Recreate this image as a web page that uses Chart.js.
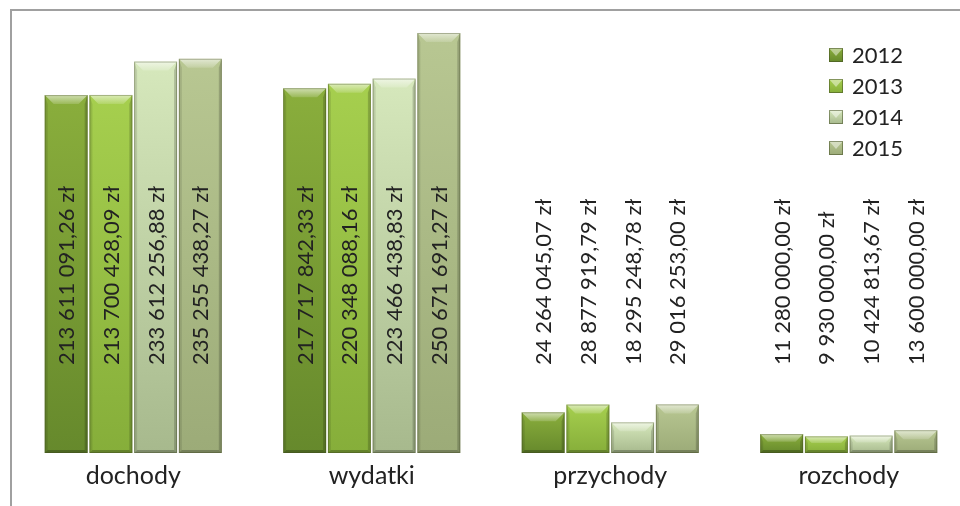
<!DOCTYPE html>
<html>
<head>
<meta charset="utf-8">
<script src="https://cdn.jsdelivr.net/npm/chart.js@4.4.0/dist/chart.umd.min.js"></script>
<style>
  html, body { margin: 0; padding: 0; background: #ffffff; overflow: hidden; }
  #wrap { position: absolute; left: 0; top: 0; width: 980px; height: 506px; }
</style>
</head>
<body>
<div id="wrap"><canvas id="c"></canvas></div>
<script>
// ---- data ----
const categories = ['dochody', 'wydatki', 'przychody', 'rozchody'];
const seriesNames = ['2012', '2013', '2014', '2015'];
const values2012 = [213611091.26, 217717842.33, 24264045.07, 11280000.00];
const values2013 = [213700428.09, 220348088.16, 28877919.79, 9930000.00];
const values2014 = [233612256.88, 223466438.83, 18295248.78, 10424813.67];
const values2015 = [235255438.27, 250671691.27, 29016253.00, 13600000.00];
const seriesValues = [values2012, values2013, values2014, values2015];

// ---- styles ----
const topColors = ['#8aae3c', '#a6cf4e', '#d6e8bc', '#b8c792'];
const botColors = ['#66892c', '#86ae3a', '#a7b98d', '#9cab78'];
const FONT = 'Lato, "Open Sans", sans-serif';

function fmt(v) {
  const s = v.toFixed(2).split('.');
  const intp = s[0].replace(/\B(?=(\d{3})+(?!\d))/g, ' ');
  return intp + ',' + s[1] + ' zł';
}

function barFill(i) {
  return function (ctx) {
    const chart = ctx.chart;
    const ys = chart.scales && chart.scales.y;
    if (!ys || ctx.raw === undefined || !isFinite(ys.getPixelForValue(0))) return topColors[i];
    const top = ys.getPixelForValue(ctx.raw);
    const base = ys.getPixelForValue(0);
    if (!(base > top)) return topColors[i];
    const g = chart.ctx.createLinearGradient(0, top, 0, base);
    g.addColorStop(0, topColors[i]);
    g.addColorStop(1, botColors[i]);
    return g;
  };
}

const bevelPlugin = {
  id: 'bevel',
  afterDatasetsDraw(chart) {
    const ctx = chart.ctx;
    chart.data.datasets.forEach((ds, di) => {
      const meta = chart.getDatasetMeta(di);
      meta.data.forEach((bar) => {
        const p = bar.getProps(['x', 'y', 'base', 'width'], true);
        const l = p.x - p.width / 2, r = p.x + p.width / 2, t = p.y, b = p.base;
        const h = b - t;
        const tb = Math.min(9, h / 2.5), sb = Math.min(3, h / 4);
        ctx.save();
        let g = ctx.createLinearGradient(0, t, 0, t + tb);
        g.addColorStop(0, 'rgba(255,255,255,0.6)');
        g.addColorStop(1, 'rgba(255,255,255,0.15)');
        ctx.fillStyle = g;
        ctx.beginPath();
        ctx.moveTo(l, t); ctx.lineTo(r, t); ctx.lineTo(r - tb, t + tb); ctx.lineTo(l + tb, t + tb); ctx.closePath();
        ctx.fill();
        ctx.fillStyle = 'rgba(0,0,0,0.10)';
        ctx.beginPath();
        ctx.moveTo(l, t); ctx.lineTo(l + sb, t + tb); ctx.lineTo(l + sb, b - sb); ctx.lineTo(l, b); ctx.closePath();
        ctx.fill();
        ctx.fillStyle = 'rgba(0,0,0,0.18)';
        ctx.beginPath();
        ctx.moveTo(r, t); ctx.lineTo(r - sb, t + tb); ctx.lineTo(r - sb, b - sb); ctx.lineTo(r, b); ctx.closePath();
        ctx.fill();
        ctx.fillStyle = 'rgba(0,0,0,0.25)';
        ctx.beginPath();
        ctx.moveTo(l, b); ctx.lineTo(r, b); ctx.lineTo(r - sb, b - sb); ctx.lineTo(l + sb, b - sb); ctx.closePath();
        ctx.fill();
        ctx.strokeStyle = 'rgba(60,70,30,0.35)';
        ctx.lineWidth = 1;
        ctx.strokeRect(l + 0.5, t + 0.5, p.width - 1, h - 1);
        ctx.restore();
      });
    });
    // value labels
    ctx.save();
    ctx.fillStyle = '#222222';
    ctx.font = '22px ' + FONT;
    ctx.textAlign = 'left';
    ctx.textBaseline = 'middle';
    chart.data.datasets.forEach((ds, di) => {
      const meta = chart.getDatasetMeta(di);
      meta.data.forEach((bar, idx) => {
        const p = bar.getProps(['x', 'base'], true);
        ctx.save();
        ctx.translate(p.x + 1, p.base - 88);
        ctx.rotate(-Math.PI / 2);
        ctx.fillText(fmt(ds.data[idx]), 0, 0);
        ctx.restore();
      });
    });
    ctx.restore();
  },
  afterDraw(chart) {
    const ctx = chart.ctx;
    ctx.save();
    ctx.font = '22px ' + FONT;
    ctx.textBaseline = 'middle';
    ctx.textAlign = 'left';
    chart.data.datasets.forEach((ds, i) => {
      const cy = 55 + i * 31;
      const sx = 829, s = 14;
      const g = ctx.createLinearGradient(0, cy - s / 2, 0, cy + s / 2);
      g.addColorStop(0, topColors[i]);
      g.addColorStop(1, botColors[i]);
      ctx.fillStyle = g;
      ctx.fillRect(sx, cy - s / 2, s, s);
      ctx.fillStyle = 'rgba(255,255,255,0.45)';
      ctx.beginPath();
      ctx.moveTo(sx, cy - s / 2); ctx.lineTo(sx + s, cy - s / 2); ctx.lineTo(sx + s / 2, cy + 1); ctx.closePath();
      ctx.fill();
      ctx.strokeStyle = 'rgba(60,70,30,0.5)';
      ctx.lineWidth = 1;
      ctx.strokeRect(sx + 0.5, cy - s / 2 + 0.5, s - 1, s - 1);
      ctx.fillStyle = '#222222';
      ctx.fillText(ds.label, 852, cy + 1);
    });
    ctx.restore();
  },
  beforeDraw(chart) {
    const ctx = chart.ctx;
    ctx.save();
    ctx.fillStyle = '#ffffff';
    ctx.fillRect(0, 0, chart.width, chart.height);
    ctx.strokeStyle = '#a0a0a0';
    ctx.lineWidth = 2;
    ctx.beginPath();
    ctx.moveTo(11, chart.height + 5);
    ctx.lineTo(11, 10);
    ctx.lineTo(chart.width + 5, 10);
    ctx.stroke();
    ctx.restore();
  }
};

const datasets = seriesNames.map((name, i) => ({
  label: name,
  data: seriesValues[i],
  backgroundColor: barFill(i),
  borderWidth: 0,
  categoryPercentage: 0.75,
  barPercentage: 0.96
}));

new Chart(document.getElementById('c'), {
  type: 'bar',
  data: { labels: categories, datasets: datasets },
  options: {
    responsive: true,
    maintainAspectRatio: false,
    animation: false,
    layout: { padding: { left: 14, right: 12, top: 14, bottom: 7 } },
    plugins: { legend: { display: false }, tooltip: { enabled: false } },
    scales: {
      x: {
        grid: { display: false, drawTicks: false },
        border: { display: false },
        ticks: { color: '#222222', font: { family: FONT, size: 25 }, padding: 8 }
      },
      y: {
        display: false,
        min: 0,
        max: 262000000
      }
    }
  },
  plugins: [bevelPlugin]
});
</script>
</body>
</html>
